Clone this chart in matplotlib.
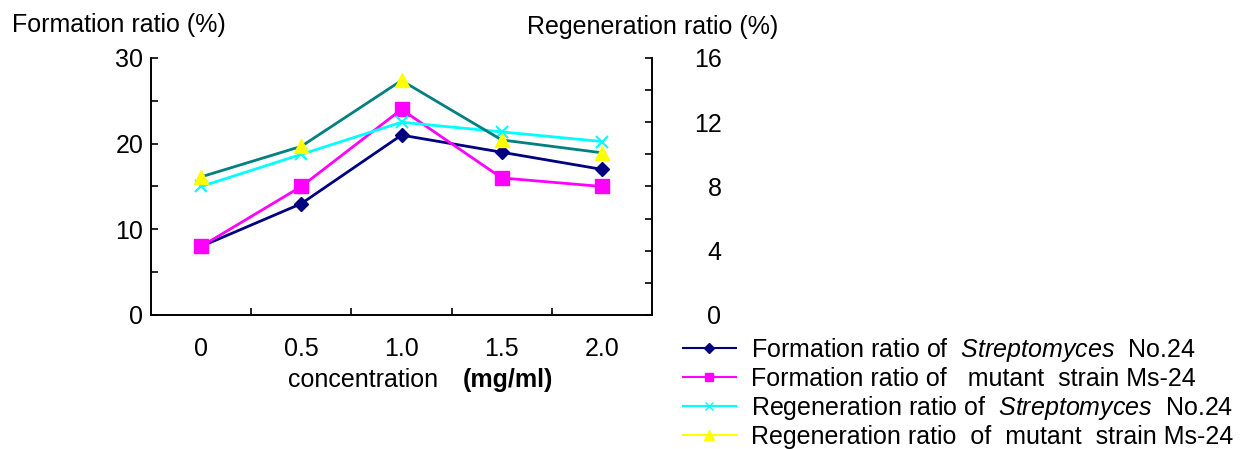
import matplotlib
matplotlib.use("Agg")
import matplotlib.pyplot as plt
from matplotlib.lines import Line2D
from matplotlib.ticker import MultipleLocator

plt.rcParams['font.family'] = ['Liberation Sans', 'DejaVu Sans']
plt.rcParams['mathtext.fontset'] = 'custom'
plt.rcParams['mathtext.it'] = 'Liberation Sans:italic'
plt.rcParams['mathtext.rm'] = 'Liberation Sans'

# data
concentration = ["0", "0.5", "1.0", "1.5", "2.0"]
form_wild = [8, 13, 21, 19, 17]
form_mutant = [8, 15, 24, 16, 15]
regen_wild = [8, 10, 12, 11.4, 10.8]
regen_mutant = [8.6, 10.5, 14.6, 10.9, 10.1]

labels = [
    r"Formation ratio of  $\mathit{Streptomyces}$  No.24",
    "Formation ratio of   mutant  strain Ms-24",
    r"Regeneration ratio of  $\mathit{Streptomyces}$  No.24",
    "Regeneration ratio  of  mutant  strain Ms-24",
]

fs = 18
fig = plt.figure(figsize=(12.54, 4.49), dpi=100)
ax = fig.add_axes([151/1254, 1 - 315/449, 501/1254, 257/449])
ax2 = ax.twinx()

x = range(len(concentration))
ax.plot(x, form_wild, color="#000080", marker="D", ms=7.5, lw=2, zorder=3)
ax.plot(x, form_mutant, color="#ff00ff", marker="s", ms=9.5, lw=2, zorder=3)
ax2.plot(x, regen_wild, color="#00ffff", marker="x", ms=9, mew=1.5, lw=2)
ax2.plot(x, regen_mutant, color="#008080", marker="^", ms=10.5,
         mfc="#ffff00", mec="#ffff00", lw=2)

ax.set_xlim(-0.5, 4.5)
ax.set_ylim(0, 30)
ax2.set_ylim(0, 16)
ax.set_xticks([0.5, 1.5, 2.5, 3.5])
ax.set_xticklabels([])
ax.set_xticks(list(x), minor=True)
ax.set_xticklabels(concentration, minor=True, fontsize=fs)
ax.tick_params(axis="x", which="major", direction="in", length=5, width=1.2)
ax.tick_params(axis="x", which="minor", length=0, pad=16)

ax.yaxis.set_major_locator(MultipleLocator(10))
ax.yaxis.set_minor_locator(MultipleLocator(5))
ax.tick_params(axis="y", which="both", direction="in", length=5, width=1.2, labelsize=fs, pad=5.5)
ax2.yaxis.set_major_locator(MultipleLocator(4))
ax2.yaxis.set_minor_locator(MultipleLocator(2))
ax2.tick_params(axis="y", which="both", direction="in", length=5, width=1.2, labelsize=fs, pad=50)
for t in ax2.get_yticklabels():
    t.set_horizontalalignment("right")

for a in (ax, ax2):
    a.spines["top"].set_visible(False)
    for s in ("left", "right", "bottom"):
        a.spines[s].set_linewidth(1.2)

fig.text(12/1254, 1 - 25/449, "Formation ratio (%)", fontsize=fs, va="center", ha="left")
fig.text(527/1254, 1 - 27/449, "Regeneration ratio (%)", fontsize=fs, va="center", ha="left")
fig.text(288/1254, 1 - 380/449, "concentration", fontsize=fs, va="center", ha="left")
fig.text(463/1254, 1 - 380/449, "(mg/ml)", fontsize=fs, va="center", ha="left", fontweight="bold")

handles = [
    Line2D([], [], color="#000080", marker="D", ms=5, lw=1.5),
    Line2D([], [], color="#ff00ff", marker="s", ms=6, lw=1.5),
    Line2D([], [], color="#00ffff", marker="x", ms=6, lw=1.5),
    Line2D([], [], color="#ffff00", marker="^", ms=7, lw=1.5),
]
fig.legend(handles, labels, loc="upper left", bbox_to_anchor=(683/1254, 1 - 336/449),
           frameon=False, fontsize=fs, handlelength=2.1, handletextpad=0.6,
           labelspacing=0.12, borderaxespad=0, borderpad=0)

fig.savefig("out.png", dpi=100)
